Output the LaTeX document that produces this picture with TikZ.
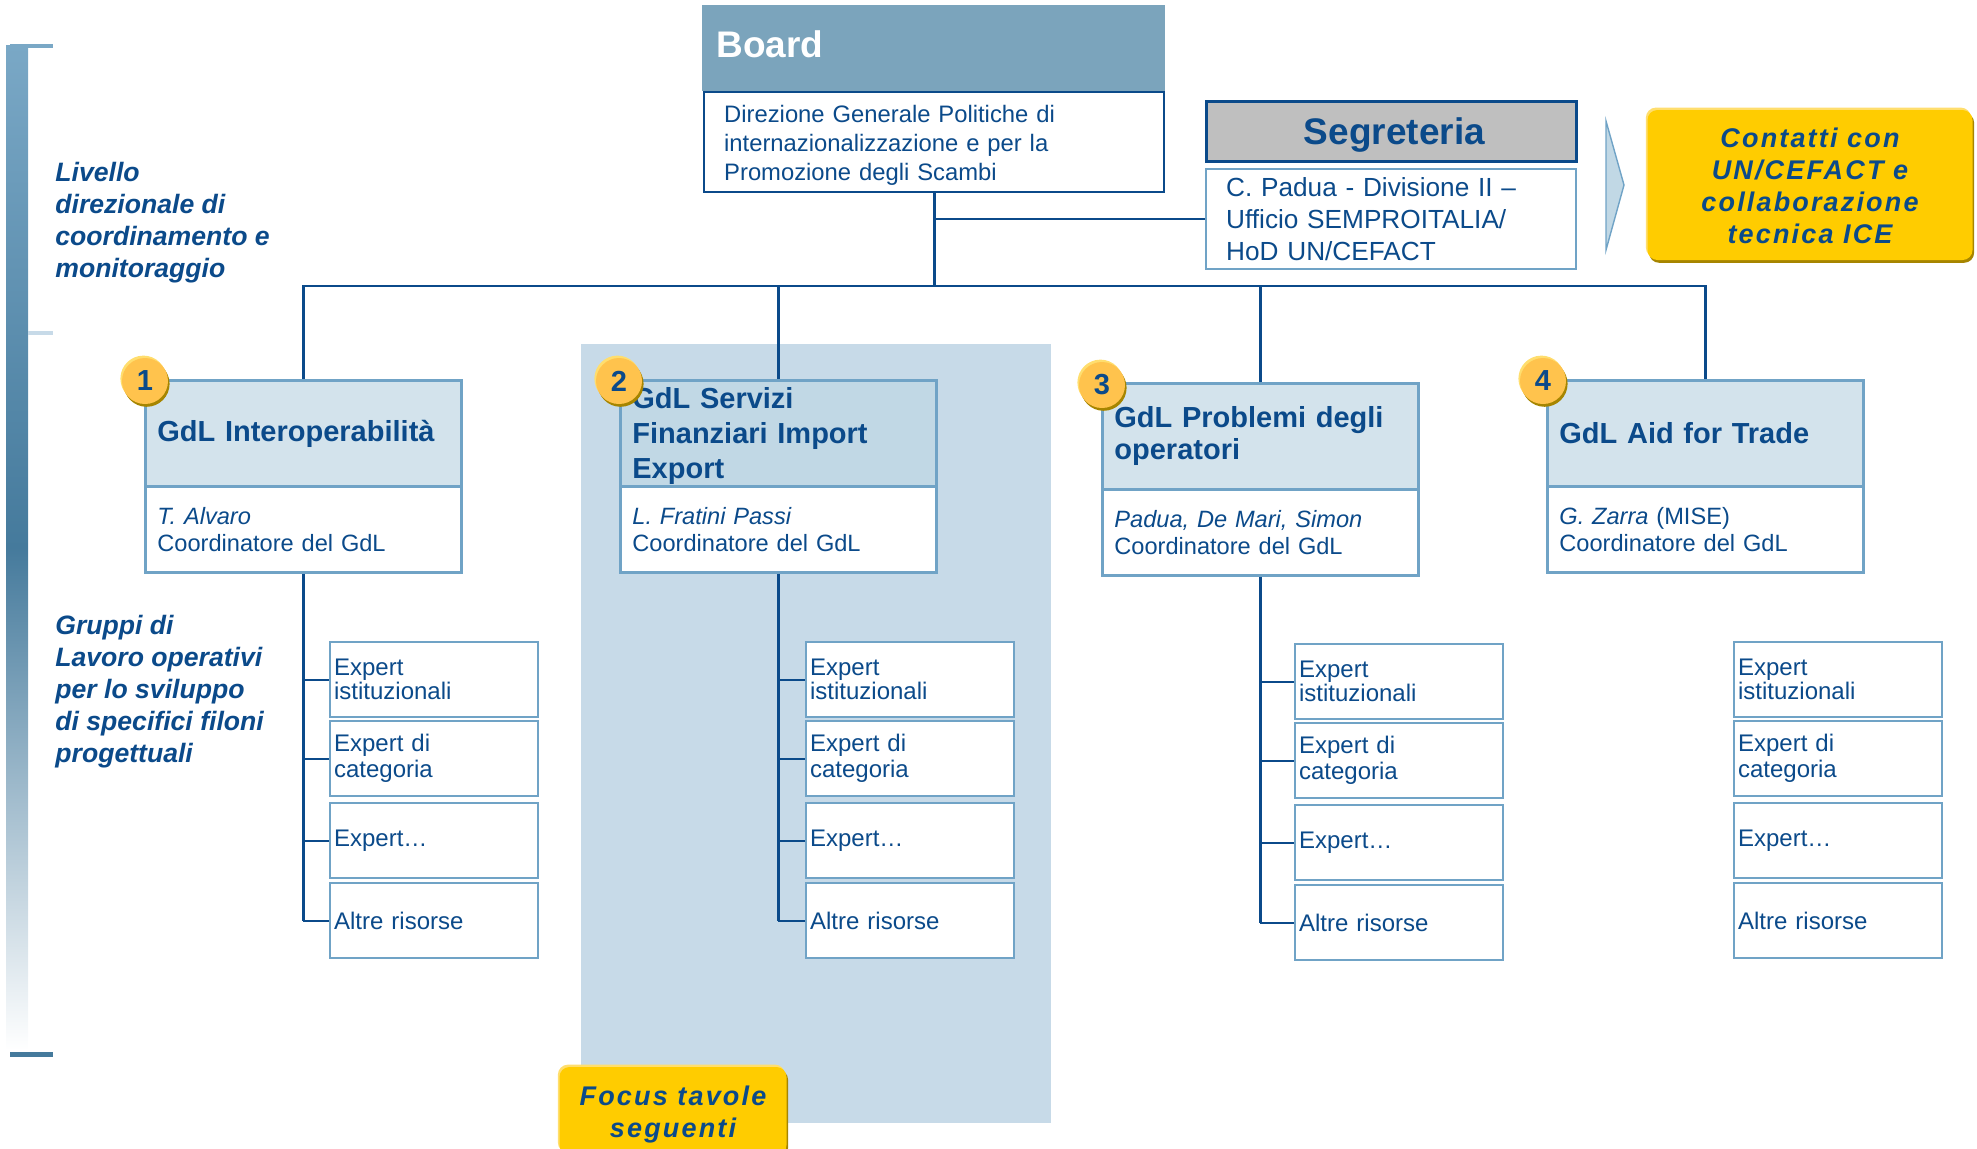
\documentclass[tikz,border=0pt]{standalone}
\usepackage{fontspec}
\setmainfont{Liberation Sans}
\newfontfamily\calloutfont[LetterSpace=8]{Liberation Sans}
\usepackage{tikz}
\definecolor{inkblue}{HTML}{0B4A8A}
\definecolor{edgeblue}{HTML}{70A3C6}
\definecolor{boardblue}{HTML}{7BA4BC}
\definecolor{headblue}{HTML}{D3E3EC}
\definecolor{headdeep}{HTML}{C1D8E5}
\definecolor{bandblue}{HTML}{C7DAE8}
\definecolor{bartop}{HTML}{7AA8C6}
\definecolor{barmid}{HTML}{457A9C}
\definecolor{calloutyellow}{HTML}{FFCC00}
\definecolor{calloutlight}{HTML}{FFDE6E}
\definecolor{calloutdark}{HTML}{A68500}
\definecolor{badgeyellow}{HTML}{FFC34D}
\tikzset{
  link/.style={draw=inkblue,line width=1.1pt},
  trunk/.style={draw=inkblue,line width=1.4pt},
  lifted/.style={
    preaction={fill=calloutlight,transform canvas={xshift=-0.8pt,yshift=1.2pt}},
    preaction={fill=calloutdark,transform canvas={xshift=0.8pt,yshift=-1.4pt}}},
  head/.style={rectangle,draw=edgeblue,line width=1.4pt,anchor=north west,text=inkblue,
    text width=146pt,inner xsep=6pt,inner ysep=0pt,minimum height=53pt,align=left},
  body/.style={head,fill=white,minimum height=43pt,font=\fontsize{11.8}{13.5}\selectfont},
  subbox/.style={rectangle,draw=edgeblue,line width=1.1pt,fill=white,anchor=north west,text=inkblue,
    text width=100pt,inner xsep=2pt,inner ysep=0pt,minimum height=37.5pt,align=left},
  badge/.style={circle,fill=badgeyellow,lifted,text=inkblue,inner sep=0pt,minimum size=23pt,
    font=\fontsize{14.5}{17}\selectfont\bfseries},
  callout/.style={rectangle,rounded corners=5pt,fill=calloutyellow,lifted,text=inkblue,align=center,
    font=\fontsize{13.5}{16}\calloutfont\bfseries\itshape},
  sidetext/.style={anchor=west,inner sep=0pt,align=left,text=inkblue,
    font=\fontsize{13.3}{16}\selectfont\bfseries\itshape},
}
\begin{document}
\begin{tikzpicture}[x=0.5pt,y=-0.5pt]
\useasboundingbox (0,0) rectangle (1977,1148);
\clip (0,0) rectangle (1977,1148);

% Side bar
\shade[top color=bartop,bottom color=white,middle color=barmid] (6,45) rectangle (28,1050);
\fill[bartop] (10,44) rectangle (53,48);
\fill[bandblue] (28,331) rectangle (53,335);
\fill[barmid] (10,1052) rectangle (53,1057);
\node[sidetext] (level1) at (55,222.5) {Livello\\direzionale di\\coordinamento e\\monitoraggio};
\node[sidetext] (level2) at (55,692) {Gruppi di\\Lavoro operativi\\per lo sviluppo\\di specifici filoni\\progettuali};

% Focus band
\fill[bandblue] (581,344) rectangle (1051,1123);

% Board
\node[rectangle,fill=boardblue,anchor=north west,minimum width=231.5pt,minimum height=43pt,text width=217.5pt,
  inner xsep=7pt,inner ysep=0pt,text height=13pt,text depth=4pt,text=white,font=\fontsize{18.5}{20}\selectfont\bfseries] (board1) at (702,5) {Board};
\node[rectangle,draw=inkblue,line width=1.2pt,fill=white,anchor=north west,text=inkblue,text width=210pt,inner xsep=10pt,
  inner ysep=0pt,minimum height=50pt,align=left,font=\fontsize{11.9}{14.5}\selectfont] (board2) at (703,91)
  {\rule{0pt}{11.5pt}Direzione Generale Politiche di\\internazionalizzazione e per la\\Promozione degli Scambi};

% Segreteria
\node[rectangle,draw=inkblue,line width=1.4pt,fill=black!25,anchor=north west,minimum width=185pt,minimum height=30pt,
  inner sep=0pt,text height=14pt,text depth=0.7pt,text=inkblue,font=\fontsize{18.5}{20}\selectfont\bfseries] (seg1) at (1205,100)
  {\hspace{3pt}Segreteria};
\node[rectangle,draw=edgeblue,line width=1.2pt,fill=white,anchor=north west,text=inkblue,text width=165pt,inner xsep=10pt,
  inner ysep=0pt,minimum height=50pt,align=left,font=\fontsize{13.1}{16}\selectfont] (seg2) at (1205,168)
  {C. Padua - Divisione II --\\Ufficio SEMPROITALIA/\\HoD UN/CEFACT};
\draw[fill=headdeep,draw=edgeblue,line width=0.7pt] (1606,121) -- (1624,185) -- (1606,250) -- cycle;
\node[callout,minimum width=162.5pt,minimum height=75pt,inner sep=0pt] (contacts) at (1810,185)
  {\rule{0pt}{10.5pt}Contatti con\\UN/CEFACT e\\collaborazione\\tecnica ICE};

% Working groups
\foreach \id/\xpos/\ypos/\fillc/\lead/\title/\who in {
  1/144/379/headblue/17/{GdL Interoperabilit\`a}/{\textit{T. Alvaro}},
  2/619/379/headdeep/17.5/{\rule{0pt}{13pt}GdL Servizi\\Finanziari Import\\Export}/{\textit{L. Fratini Passi}},
  3/1101/382/headblue/16/{GdL Problemi degli\\operatori}/{\textit{Padua, De Mari, Simon}},
  4/1546/379/headblue/17/{GdL Aid for Trade}/{\textit{G. Zarra} (MISE)}} {
    \node[head,fill=\fillc,font=\fontsize{14.5}{\lead}\selectfont\bfseries] (head\id) at (\xpos,\ypos) {\title};
    \node[body] (body\id) at (\xpos,\ypos+106) {\who\\Coordinatore del GdL};
}

% Experts
\foreach \id/\xpos/\ypos in {1/329/641,2/805/641,3/1294/643,4/1733/641} {
  \foreach \k/\yoff/\lead/\txt in {1/0/11/{Expert\\istituzionali},2/79/13/{Expert di\\categoria},3/161/13/{Expert\ldots},4/241/13/{Altre risorse}} {
    \node[subbox,font=\fontsize{12}{\lead}\selectfont] (sub\id\k) at (\xpos,\ypos+\yoff) {\txt};
  }
}

% Links
\coordinate (bus) at (board2.south |- 0,286);
\draw[trunk] (board2.south) -- (bus);
\draw[link] (board2.south |- seg2.west) -- (seg2.west);
\foreach \id in {1,2,3,4} {
  \draw[link] (bus) -| (head\id.north);
}
\draw[trunk] (bus) -- (bus -| head3.north);
\foreach \id in {1,2,3} {
  \draw[trunk] (body\id.south) -- (body\id.south |- sub\id4.west);
  \foreach \k in {1,2,3,4} {
    \draw[link] (body\id.south |- sub\id\k.west) -- (sub\id\k.west);
  }
}

% Badges
\foreach \id/\xpos/\ypos in {1/145/381,2/619/381,3/1102/385,4/1543/381} {
  \node[badge] (badge\id) at (\xpos,\ypos) {\id};
}

% Focus note
\node[callout,minimum width=113.5pt,minimum height=44pt,inner sep=0pt] (focus) at (673,1111) {\rule{0pt}{13pt}Focus tavole\\seguenti};
\end{tikzpicture}
\end{document}
